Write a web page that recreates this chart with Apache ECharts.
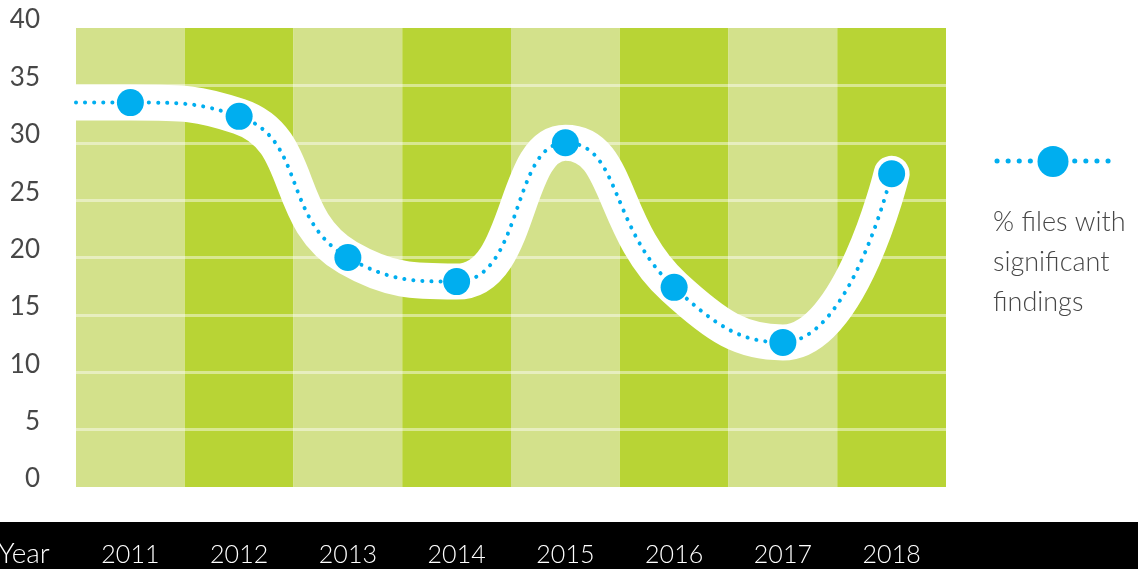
<!DOCTYPE html>
<html>
<head>
<meta charset="utf-8">
<script src="https://cdn.jsdelivr.net/npm/echarts@6/dist/echarts.min.js"></script>
<style>
html,body{margin:0;padding:0;background:#fff;}
#c{width:1138px;height:569px;}
</style>
</head>
<body>
<div id="c"></div>
<script>
// ---- data ----
const years = ['2011', '2012', '2013', '2014', '2015', '2016', '2017', '2018'];
const values = [33.5, 32.3, 20.0, 17.9, 30.0, 17.4, 12.6, 27.3];
const yMin = 0;
const yMax = 40;
const yStep = 5;
const seriesName = '% files with\nsignificant\nfindings';
const axisTitle = 'Year';

// ---- styling ----
const FONT = 'Lato, "Open Sans", sans-serif';
const BLUE = '#00aeef';
const LIGHT = '#d3e18b';
const DARK = '#b8d435';
const SMOOTH = 0.5;

// line starts at the left plot edge carrying the first value (lead-in), then one point per year
const linePts = [{ value: [-0.5, values[0]], symbol: 'none' }]
  .concat(values.map((v, i) => ({ value: [i, v] })));

const chart = echarts.init(document.getElementById('c'), null, { renderer: 'canvas' });

chart.setOption({
  animation: false,
  backgroundColor: '#fff',
  grid: { left: 76, right: 192, top: 28, bottom: 82, containLabel: false },
  xAxis: [
    {
      type: 'category',
      data: years,
      boundaryGap: true,
      z: 0,
      axisLine: { show: false },
      axisTick: { show: false },
      splitLine: { show: false },
      splitArea: { show: true, areaStyle: { color: [LIGHT, DARK] } },
      axisLabel: {
        color: '#fff', fontSize: 25, fontFamily: FONT, fontWeight: 300, margin: 55
      }
    },
    {
      type: 'value',
      min: -0.5,
      max: years.length - 0.5,
      show: false
    }
  ],
  yAxis: {
    type: 'value',
    min: yMin, max: yMax, interval: yStep,
    z: 1,
    axisLine: { show: false },
    axisTick: { show: false },
    axisLabel: {
      color: '#474747', fontSize: 26, fontFamily: FONT, fontWeight: 400,
      margin: 36, verticalAlign: 'bottom', lineHeight: 16
    },
    splitLine: {
      show: true, showMinLine: false, showMaxLine: false,
      lineStyle: { color: 'rgba(255,255,255,0.45)', width: 3 }
    }
  },
  series: [
    {
      name: 'band',
      type: 'line',
      xAxisIndex: 1,
      data: linePts,
      smooth: SMOOTH,
      symbol: 'none',
      silent: true,
      z: 3,
      lineStyle: { color: '#fff', width: 36, cap: 'round', join: 'round' }
    },
    {
      name: seriesName,
      type: 'line',
      xAxisIndex: 1,
      data: linePts,
      smooth: SMOOTH,
      symbol: 'circle',
      symbolSize: 27,
      z: 4,
      itemStyle: { color: BLUE },
      lineStyle: { color: BLUE, width: 4, type: [0.1, 9], cap: 'round' }
    }
  ],
  graphic: [
    {
      type: 'rect', z: -10,
      shape: { x: 0, y: 522, width: 1138, height: 47 },
      style: { fill: '#000' }
    },
    {
      type: 'text', z: 10,
      style: {
        x: -2, y: 554, text: axisTitle, fill: '#fff',
        font: '300 28px ' + FONT, verticalAlign: 'middle', textAlign: 'left'
      }
    },
    {
      type: 'line', z: 10,
      shape: { x1: 997, y1: 161, x2: 1112, y2: 161 },
      style: { stroke: BLUE, lineWidth: 5, lineDash: [0.1, 11], lineCap: 'round' }
    },
    {
      type: 'circle', z: 11,
      shape: { cx: 1053, cy: 161.5, r: 15.5 },
      style: { fill: BLUE }
    },
    {
      type: 'text', z: 10,
      style: {
        x: 993, y: 202, text: seriesName, fill: '#474747',
        font: '300 27px ' + FONT, lineHeight: 40, verticalAlign: 'top', textAlign: 'left'
      }
    }
  ]
});
</script>
</body>
</html>
